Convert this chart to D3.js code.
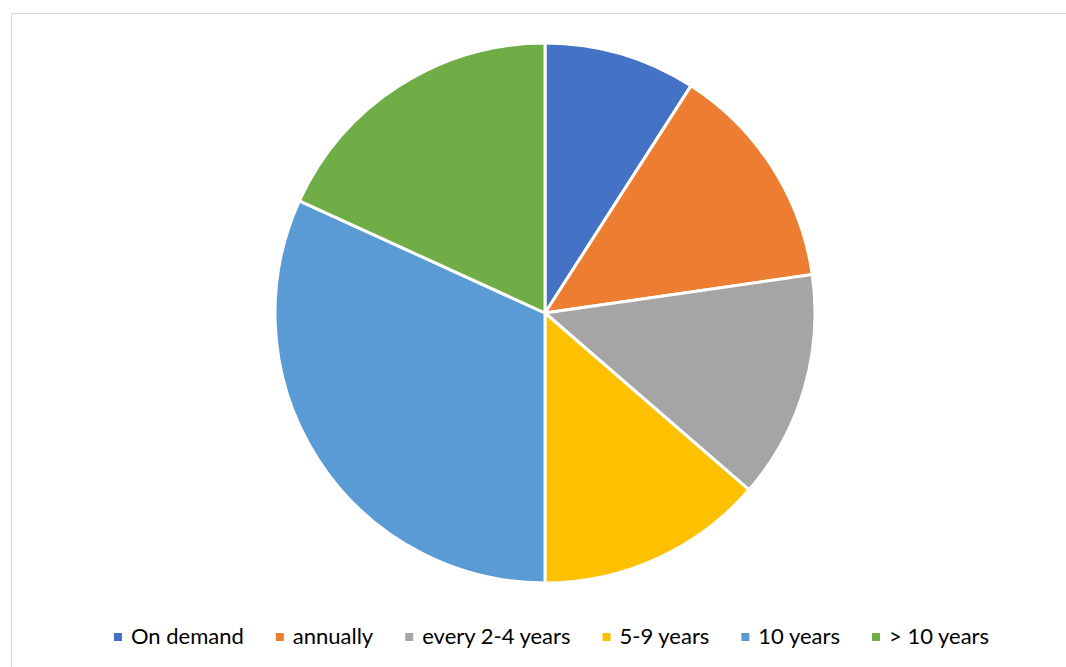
<!DOCTYPE html>
<html><head><meta charset="utf-8">
<script src="https://cdn.jsdelivr.net/npm/d3@7"></script>
<style>html,body{margin:0;padding:0;background:#fff;}svg{display:block;}</style>
</head><body>
<script>
const categories = ["On demand", "annually", "every 2-4 years", "5-9 years", "10 years", "> 10 years"];
const values = [2, 3, 3, 3, 7, 4];
const colors = ["#4472C4", "#ED7D31", "#A5A5A5", "#FFC000", "#5B9BD5", "#70AD47"];

const W = 1066, H = 667;
const svg = d3.select("body").append("svg").attr("width", W).attr("height", H);

// chart frame
svg.append("rect").attr("x", 11.5).attr("y", 13.5).attr("width", W + 10).attr("height", H + 10)
  .attr("fill", "#fff").attr("stroke", "#d9d9d9").attr("stroke-width", 1);

const cx = 545, cy = 313, r = 270;
const data = categories.map((c, i) => ({cat: c, value: values[i], color: colors[i]}));
const pie = d3.pie().value(d => d.value).sort(null);
const arc = d3.arc().innerRadius(0).outerRadius(r);

svg.append("g").attr("transform", `translate(${cx},${cy})`)
  .selectAll("path").data(pie(data)).join("path")
  .attr("d", arc).attr("fill", d => d.data.color)
  .attr("stroke", "#fff").attr("stroke-width", 3).attr("stroke-linejoin", "round");

// legend
const fontSize = 22;
const lg = svg.append("g");
const items = lg.selectAll("g").data(data).join("g");
items.append("rect").attr("width", 8).attr("height", 8).attr("y", -11).attr("fill", d => d.color);
items.append("text").attr("x", 17).attr("y", 0)
  .attr("font-family", "Lato, 'Open Sans', sans-serif").attr("font-size", fontSize)
  .attr("fill", "#000").text(d => d.cat);
let x = 0; const gap = 32;
const pos = [];
items.each(function() {
  const tw = d3.select(this).select("text").node().getComputedTextLength();
  pos.push(x); x += 17 + tw + gap;
});
const total = x - gap;
const startX = (W + 11) / 2 - total / 2 + 13;
items.attr("transform", (d, i) => `translate(${startX + pos[i]},644)`);
</script>
</body></html>
